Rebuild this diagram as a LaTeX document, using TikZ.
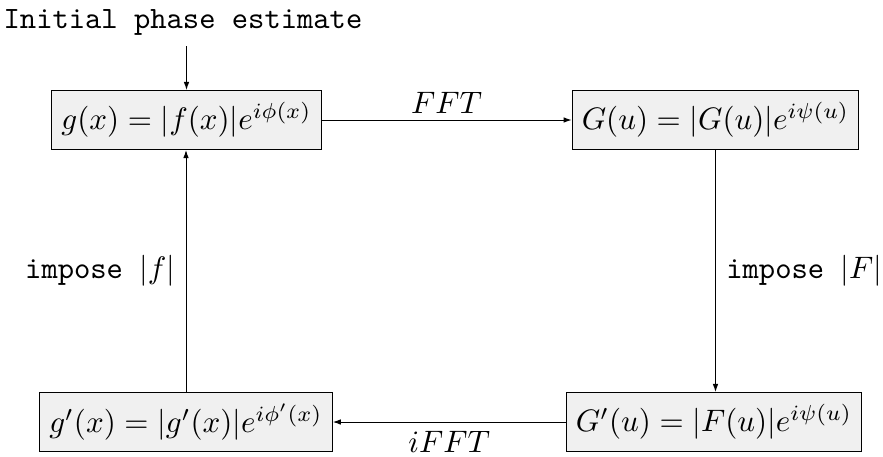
\documentclass[tikz,border=0pt]{standalone}
\usepackage{amsmath}
\usetikzlibrary{arrows.meta}
\begin{document}
\begin{tikzpicture}[x=0.322pt,y=-0.322pt,>={Latex[length=2.6pt,width=1.8pt]},
  line width=0.32pt,
  box/.style={draw, fill=black!6, minimum height=19pt, inner xsep=3.1pt, inner ysep=3.6pt},
  lbl/.style={font=\ttfamily}]
\useasboundingbox (0,0) rectangle (883,456);
\node[box] (g)  at (186.5,120) {$g(x)=|f(x)|e^{i\phi(x)}$};
\node[box] (G)  at (715.5,120) {$G(u)=|G(u)|e^{i\psi(u)}$};
\node[box] (gp) at (186,422)   {$g'(x)=|g'(x)|e^{i\phi'(x)}$};
\node[box] (Gp) at (714,422)   {$G'(u)=|F(u)|e^{i\psi(u)}$};
\node[lbl, anchor=south] (init) at (183,46) {Initial phase estimate};
\draw[->] (init.south -| g.north) -- (g.north);
\draw[->] (g) -- node[above, inner sep=2pt]{$FFT$} (G);
\draw[->] (G.south) -- node[right, lbl]{impose $|F|$} (G.south |- Gp.north);
\draw[->] (Gp) -- node[below, inner sep=2.8pt]{$iFFT$} (gp);
\draw[->] (gp.north) -- node[left, lbl]{impose $|f|$} (gp.north |- g.south);
\end{tikzpicture}
\end{document}
